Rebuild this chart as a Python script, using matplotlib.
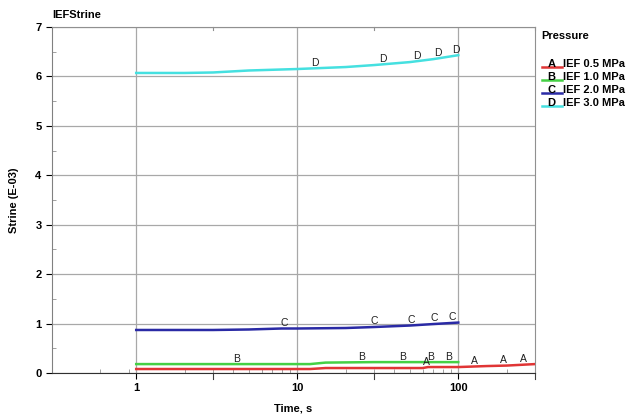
import matplotlib.pyplot as plt
from matplotlib.lines import Line2D
from matplotlib.ticker import FixedLocator, NullFormatter

plt.rcParams['font.family'] = ['Liberation Sans', 'DejaVu Sans']

# strain curves, time in s, strain in E-03
a_t = [1, 5, 12, 15, 40, 60, 65, 100, 150, 200, 300]
a_s = [0.08, 0.08, 0.08, 0.10, 0.10, 0.10, 0.12, 0.12, 0.14, 0.15, 0.18]
b_t = [1, 5, 12, 15, 30, 60, 100]
b_s = [0.18, 0.18, 0.18, 0.21, 0.22, 0.22, 0.22]
c_t = [1, 3, 5, 8, 10, 20, 30, 50, 70, 100]
c_s = [0.87, 0.87, 0.88, 0.90, 0.90, 0.91, 0.93, 0.96, 0.99, 1.02]
d_t = [1, 2, 3, 5, 10, 20, 30, 50, 70, 100]
d_s = [6.07, 6.07, 6.08, 6.12, 6.15, 6.19, 6.23, 6.29, 6.35, 6.43]

# where the curve letters sit
a_lab = [63, 126, 190, 253]
b_lab = [4.2, 25, 45, 67, 87]
c_lab = [8.3, 30, 51, 71, 92]
d_lab = [12.8, 34, 55, 75, 97]

names = ['IEF 0.5 MPa', 'IEF 1.0 MPa', 'IEF 2.0 MPa', 'IEF 3.0 MPa']
letters = ['A', 'B', 'C', 'D']
colors = ['#e03535', '#45d045', '#2a2aa5', '#45e0e0']

fig = plt.figure(figsize=(6.29, 4.18), dpi=100)
ax = fig.add_axes([0.0827, 0.1077, 0.768, 0.8277])

series = [(a_t, a_s, a_lab), (b_t, b_s, b_lab), (c_t, c_s, c_lab), (d_t, d_s, d_lab)]
for (t, s, lab), let, col in zip(series, letters, colors):
    ax.plot(t, s, color=col, lw=1.8, zorder=3)
    for x in lab:
        # curve value at the letter position (linear between samples)
        for i in range(len(t) - 1):
            if t[i] <= x <= t[i + 1]:
                y = s[i] + (s[i + 1] - s[i]) * (x - t[i]) / (t[i + 1] - t[i])
                break
        ax.annotate(let, (x, y), xytext=(0, 4), textcoords='offset points',
                    ha='center', va='center', fontsize=7.5, color='#202020', zorder=4)

ax.set_xscale('log')
ax.set_xlim(0.3, 300)
ax.set_ylim(0, 7)

ax.xaxis.set_major_locator(FixedLocator([1, 10, 100]))
ax.set_xticklabels(['1', '10', '100'])
minors = [0.6, 0.9] + [m * d for d in (1, 10, 100) for m in range(2, 10) if m * d < 300]
ax.xaxis.set_minor_locator(FixedLocator(minors))
ax.xaxis.set_minor_formatter(NullFormatter())
ax.tick_params(axis='x', which='major', direction='out', length=4, labelsize=8, pad=3)
ax.tick_params(axis='x', which='minor', direction='in', length=3, color='#909090')
# longer marks at 3, 30, 300
for x in (3, 30, 300):
    ax.plot([x, x], [0, -0.12], color='#404040', lw=0.8, clip_on=False)
    ax.plot([x, x], [7, 7 - 0.06], color='#909090', lw=0.8, clip_on=False)

ax.set_yticks(range(8))
ax.yaxis.set_minor_locator(FixedLocator([0.5 + i for i in range(7)]))
ax.tick_params(axis='y', which='major', direction='out', length=4, labelsize=8)
ax.tick_params(axis='y', which='minor', direction='in', length=3, color='#909090')
for lbl in ax.get_xticklabels() + ax.get_yticklabels():
    lbl.set_fontweight('bold')

ax.grid(True, which='major', color='#a8a8a8', lw=0.9)
for side in ('top', 'right'):
    ax.spines[side].set_color('#909090')
ax.spines['left'].set_color('#808080')
ax.spines['bottom'].set_color('#303030')

ax.set_xlabel('Time, s', fontsize=8, fontweight='bold', labelpad=8)
ax.set_ylabel('Strine (E-03)', fontsize=8, fontweight='bold', labelpad=12)
fig.text(0.0827, 0.952, 'IEFStrine', fontsize=8, fontweight='bold', ha='left', va='bottom')

# legend block
fig.text(0.86, 0.913, 'Pressure', fontsize=8, fontweight='bold', ha='left', va='center')
for i, (let, name, col) in enumerate(zip(letters, names, colors)):
    yy = 0.847 - i * 0.031
    fig.add_artist(Line2D([0.861, 0.893], [yy - 0.008, yy - 0.008], color=col, lw=1.8,
                          transform=fig.transFigure))
    fig.text(0.877, yy, let, fontsize=8, fontweight='bold', ha='center', va='center')
    fig.text(0.895, yy, name, fontsize=8, fontweight='bold', ha='left', va='center')

fig.savefig('out.png', dpi=100)
